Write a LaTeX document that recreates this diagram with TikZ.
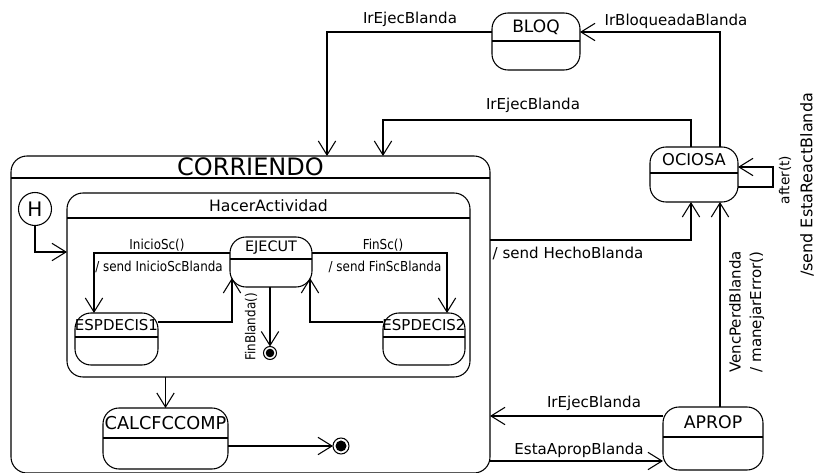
\documentclass[tikz,border=0pt]{standalone}
\usepackage{fontspec}
\setmainfont{DejaVu Sans}
\usetikzlibrary{arrows.meta,calc}
\tikzset{
  st/.style={draw, rounded corners=12pt, inner sep=0pt, outer sep=0pt, line width=0.8pt},
  arr/.style={line width=0.8pt, -{Straight Barb[length=10.5pt,width=13pt,line width=0.8pt]}},
  lbl/.style={font=\fontsize{#1}{#1}\selectfont, inner sep=1pt},
  lbl/.default=11.3,
  ttl/.style={font=\fontsize{#1}{#1}\selectfont, inner sep=0pt},
  ttl/.default=11.3,
  fin/.style={draw, circle, line width=0.8pt, inner sep=0pt, outer sep=0pt},
}
\newcommand\narrow[1]{\scalebox{0.87}[1]{#1}}
% name, x1, y1, x2, y2, text, divider offset, title style
\newcommand\stnode[8]{%
  \node[st, minimum width={(#4-#2)*0.75pt}, minimum height={(#5-#3)*0.75pt}] (#1) at ({(#2+#4)/2},{(#3+#5)/2}) {};
  \draw[line width=0.8pt] ($(#1.north west)+(0,#7)$) -- ($(#1.north east)+(0,#7)$);
  \node[#8] (#1-t) at ($(#1.north)+(0,{#7/2})$) {#6};
}
\begin{document}
\begin{tikzpicture}[x=0.75pt,y=-0.75pt]
\useasboundingbox (0,0) rectangle (815,473);

% states
\stnode{corr}{11}{156}{490}{473}{CORRIENDO}{22}{ttl=18}
\stnode{hacer}{67}{193}{470}{377}{HacerActividad}{25}{ttl=11.75}
\stnode{ejecut}{230}{237}{312}{287}{EJECUT}{22}{ttl=10.8}
\stnode{esp1}{75}{313}{158}{365}{ESPDECIS1}{24}{ttl=11.25}
\stnode{esp2}{383}{313}{465}{365}{ESPDECIS2}{24}{ttl=11.25}
\stnode{calc}{103}{408}{228}{469}{CALCFCCOMP}{30}{ttl=13.3}
\stnode{bloq}{492}{13}{580}{70}{BLOQ}{28}{ttl=12.8}
\stnode{ociosa}{650}{147}{738}{202}{OCIOSA}{26}{ttl=12.2}
\stnode{aprop}{663}{407}{763}{470}{APROP}{30}{ttl=13}

% history
\node[draw, circle, line width=0.8pt, minimum size={33*0.75pt}, inner sep=0pt, outer sep=0pt,
      font=\fontsize{15}{17}\selectfont] (H) at (35,209) {H};

% final states
\node[fin, minimum size={13*0.75pt}] (f1) at (270,353) {};
\fill (f1.center) circle (4.3);
\node[fin, minimum size={16*0.75pt}] (f2) at (341,446) {};
\fill (f2.center) circle (5.5);

% inner transitions
\draw[arr] (H.south) |- ($(hacer.north west)+(0,59)$);
\draw[arr] ($(ejecut.north west)+(0,16)$) -| ($(esp1.north west)+(19,0)$);
\draw[arr] ($(ejecut.north east)+(0,16)$) -| ($(esp2.north west)+(64,0)$);
\draw[arr] ($(esp1.north east)+(0,9)$) -| ($(ejecut.south west)+(2,-9)$);
\draw[arr] ($(esp2.north west)+(0,9)$) -| ($(ejecut.south east)+(-2,-9)$);
\draw[arr] (ejecut.south -| f1) -- (f1.north);
\draw[arr] (hacer.south -| calc.north) -- (calc.north);
\draw[arr] ($(calc.north east)+(0,38)$) -- (f2.west);

% outer transitions
\draw[arr] ($(bloq.north west)+(0,19)$) -| ($(corr.north west)+(316,0)$);
\draw[arr] ($(ociosa.north west)+(70,0)$) |- ($(bloq.north east)+(0,19)$);
\draw[arr] ($(ociosa.north west)+(41,0)$) |- ($(corr.north west)+(372,-36)$) -- ($(corr.north west)+(372,0)$);
\draw[arr] ($(ociosa.north east)+(0,40)$) -- ++(35,0) -- ++(0,-20) -- ($(ociosa.north east)+(0,20)$);
\draw[arr] ($(corr.north east)+(0,84)$) -| ($(ociosa.south west)+(41,0)$);
\draw[arr] ($(aprop.north west)+(57,0)$) -- ($(ociosa.south west)+(70,0)$);
\draw[arr] ($(aprop.north west)+(0,9)$) -- ($(corr.north east)+(0,260)$);
\draw[arr] ($(corr.north east)+(0,305)$) -- ($(aprop.north west)+(0,54)$);

% labels
\node[lbl=10.3] (l1) at (157,245) {\narrow{InicioSc()}};
\node[lbl=10.3] (l2) at (159,267) {\narrow{/ send InicioScBlanda}};
\node[lbl=10.3] (l3) at (383,245) {\narrow{FinSc()}};
\node[lbl=10.3] (l4) at (385,267) {\narrow{/ send FinScBlanda}};
\node[lbl=10.3, rotate=90] (l5) at (251,327) {\narrow{FinBlanda()}};
\node[lbl] (l6) at (410,19) {IrEjecBlanda};
\node[lbl] (l7) at (676,21) {IrBloqueadaBlanda};
\node[lbl] (l8) at (533,105) {IrEjecBlanda};
\node[lbl] (l9) at (568,253) {/ send HechoBlanda};
\node[lbl] (l10) at (594,403) {IrEjecBlanda};
\node[lbl] (l11) at (579,450) {EstaApropBlanda};
\node[lbl, rotate=90] (l12) at (735,312) {VencPerdBlanda};
\node[lbl, rotate=90] (l13) at (757,312) {/ manejarError()};
\node[lbl=10.3, rotate=90] (l14) at (785,180) {after(t)};
\node[lbl=12, rotate=90] (l15) at (807,185) {/send EstaReactBlanda};
\end{tikzpicture}
\end{document}
